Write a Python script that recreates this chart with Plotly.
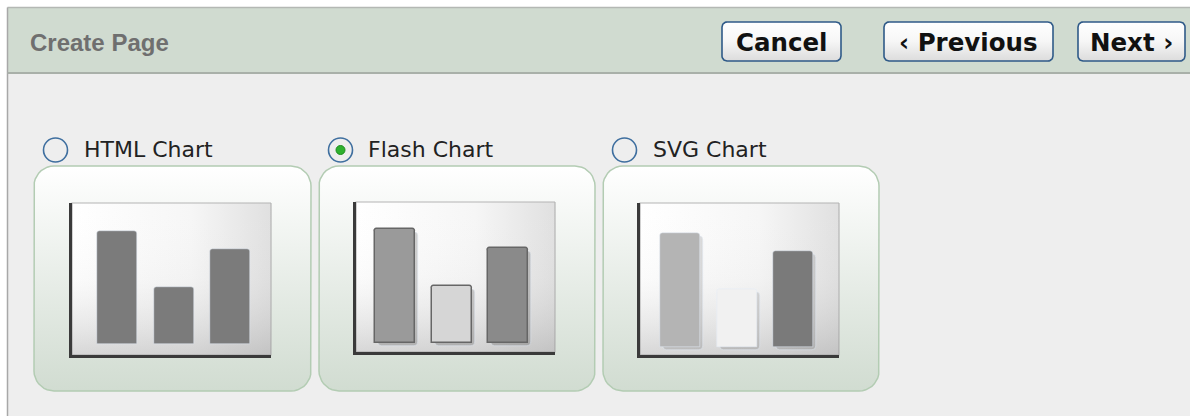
import numpy as np
import plotly.graph_objects as go

W, H = 1190, 416

# ---------------- data ----------------
page_title = "Create Page"
button_labels = ["Cancel", "‹ Previous", "Next ›"]
chart_labels = ["HTML Chart", "Flash Chart", "SVG Chart"]
selected_chart = "Flash Chart"
categories = ["Bar 1", "Bar 2", "Bar 3"]
html_values = [113, 57, 95]
flash_values = [114, 57, 95]
svg_values = [114, 58, 96]

# ---------------- layout helpers (pixel geometry) ----------------
def rounded_rect(x0, y0, x1, y1, r, n=10):
    xs, ys = [], []
    corners = [((x1 - r, y0 + r), -90, 0), ((x1 - r, y1 - r), 0, 90),
               ((x0 + r, y1 - r), 90, 180), ((x0 + r, y0 + r), 180, 270)]
    for (cx, cy), a0, a1 in corners:
        for a in np.linspace(np.radians(a0), np.radians(a1), n):
            xs.append(cx + r * np.cos(a))
            ys.append(cy + r * np.sin(a))
    xs.append(xs[0]); ys.append(ys[0])
    return xs, ys

fig = go.Figure()
BG = dict(xaxis="x", yaxis="y", hoverinfo="skip", showlegend=False, mode="lines")

# header band
hx, hy = rounded_rect(8, 8, 1192, 73, 0.01, n=2)
fig.add_trace(go.Scatter(x=hx, y=hy, fill="toself", fillcolor="#d0dbd0",
                         line=dict(width=0), **BG))

# buttons
buttons = [(722, 841), (884, 1053), (1078, 1185)]
for (bx0, bx1), lab in zip(buttons, button_labels):
    xs, ys = rounded_rect(bx0, 22, bx1, 61, 5)
    fig.add_trace(go.Scatter(x=xs, y=ys, fill="toself",
                             fillgradient=dict(type="vertical", start=22, stop=61,
                                               colorscale=[[0, "#ffffff"], [0.5, "#f6f6f6"], [1, "#dcdcdc"]]),
                             line=dict(color="#2f5a88", width=1.6), **BG))

# cards
cards = [(34, 311), (319, 595), (603, 879)]
for cx0, cx1 in cards:
    xs, ys = rounded_rect(cx0, 166, cx1, 391, 20)
    fig.add_trace(go.Scatter(x=xs, y=ys, fill="toself",
                             fillgradient=dict(type="vertical", start=166, stop=391,
                                               colorscale=[[0, "#ffffff"], [1, "#d1dcd1"]]),
                             line=dict(color="#b3ccb3", width=1.5), **BG))

# mini chart frames (pixel boxes)
frames = [dict(x0=72, y0=203, x1=271, y1=355, c0=117, base=344, vals=html_values),
          dict(x0=356, y0=202, x1=555, y1=352, c0=395, base=343, vals=flash_values),
          dict(x0=640, y0=203, x1=839, y1=355, c0=680, base=347, vals=svg_values)]
for f in frames:
    xs, ys = rounded_rect(f["x0"], f["y0"], f["x1"], f["y1"], 0.01, n=2)
    fig.add_trace(go.Scatter(x=xs, y=ys, fill="toself",
                             fillgradient=dict(type="horizontal", start=f["x0"], stop=f["x1"],
                                               colorscale=[[0, "#ffffff"], [0.6, "#f6f6f6"], [1, "#e0e0e0"]]),
                             line=dict(color="#b4b4b4", width=1.2), **BG))
    fig.add_trace(go.Scatter(x=xs, y=ys, fill="toself",
                             fillgradient=dict(type="vertical", start=f["y0"], stop=f["y1"],
                                               colorscale=[[0, "rgba(255,255,255,0)"], [0.5, "rgba(200,200,200,0.08)"], [1, "rgba(140,140,140,0.35)"]]),
                             line=dict(width=0), **BG))

# ---------------- mini bar charts ----------------
SPACING = 56.5
BAR_W = 40
styles = [
    dict(colors=["#7b7b7b", "#7b7b7b", "#7b7b7b"], line=None, shadow=None),
    dict(colors=["#9a9a9a", "#d6d6d6", "#8a8a8a"], line=dict(color="#666666", width=1.5), shadow="rgba(0,0,0,0.18)"),
    dict(colors=["#b4b4b4", "#f1f1f1", "#7a7a7a"], line=None, shadow="rgba(0,0,0,0.13)"),
]
layout_axes = {}
for i, (f, st) in enumerate(zip(frames, styles)):
    k = i + 2
    xr = [(f["x0"] - f["c0"]) / SPACING, (f["x1"] - f["c0"]) / SPACING]
    yr = [-(f["y1"] - f["base"]), f["base"] - f["y0"]]
    wu = BAR_W / SPACING
    if st["shadow"]:
        fig.add_trace(go.Bar(x=categories, y=f["vals"], base=-3, width=wu,
                             offset=-wu / 2 + 3 / SPACING,
                             marker=dict(color=st["shadow"], cornerradius=4),
                             xaxis=f"x{k}", yaxis=f"y{k}", hoverinfo="skip", showlegend=False))
    mk = dict(color=st["colors"], cornerradius=3)
    if st["line"]:
        mk["line"] = st["line"]
    fig.add_trace(go.Bar(x=categories, y=f["vals"], width=wu, marker=mk,
                         xaxis=f"x{k}", yaxis=f"y{k}", hoverinfo="skip", showlegend=False))
    layout_axes[f"xaxis{k}"] = dict(domain=[f["x0"] / W, f["x1"] / W], range=xr, anchor=f"y{k}",
                                    showline=True, linecolor="#3a3a3a", linewidth=2.5,
                                    showgrid=False, zeroline=False, showticklabels=False,
                                    ticks="", fixedrange=True, type="category")
    layout_axes[f"yaxis{k}"] = dict(domain=[1 - f["y1"] / H, 1 - f["y0"] / H], range=yr, anchor=f"x{k}",
                                    showline=True, linecolor="#3a3a3a", linewidth=2.5,
                                    showgrid=False, zeroline=False, showticklabels=False,
                                    ticks="", fixedrange=True)

# ---------------- shapes ----------------
shapes = [
    dict(type="rect", xref="x", yref="y", x0=0, y0=0, x1=W, y1=7, fillcolor="#ffffff", line=dict(width=0), layer="below"),
    dict(type="rect", xref="x", yref="y", x0=0, y0=0, x1=7, y1=H, fillcolor="#ffffff", line=dict(width=0), layer="below"),
    dict(type="line", xref="x", yref="y", x0=7.5, y0=7.5, x1=W, y1=7.5, line=dict(color="#b4b8b4", width=1.5), layer="above"),
    dict(type="line", xref="x", yref="y", x0=7.5, y0=7.5, x1=7.5, y1=H, line=dict(color="#a8a8a8", width=1.5), layer="above"),
    dict(type="line", xref="x", yref="y", x0=7.5, y0=73, x1=W, y1=73, line=dict(color="#a9b0a9", width=2), layer="above"),
]
radio_cx = [55.5, 340.5, 624.5]
for cx, lab in zip(radio_cx, chart_labels):
    shapes.append(dict(type="circle", xref="x", yref="y", x0=cx - 12, y0=138, x1=cx + 12, y1=162,
                       fillcolor="#eeeeee", line=dict(color="#3f6f9f", width=1.6), layer="above"))
    if lab == selected_chart:
        shapes.append(dict(type="circle", xref="x", yref="y", x0=cx - 4.5, y0=145.5, x1=cx + 4.5, y1=154.5,
                           fillcolor="#2fb12f", line=dict(color="#1e8e1e", width=1), layer="above"))

# ---------------- annotations ----------------
ann = [dict(x=28, y=42, xref="x", yref="y", text=f"<b>{page_title}</b>", showarrow=False,
            xanchor="left", yanchor="middle",
            font=dict(family="Liberation Sans, Arial", size=24, color="#6f6f6f"))]
for (bx0, bx1), lab in zip(buttons, button_labels):
    ann.append(dict(x=(bx0 + bx1) / 2, y=42, xref="x", yref="y", text=f"<b>{lab}</b>", showarrow=False,
                    xanchor="center", yanchor="middle",
                    font=dict(family="DejaVu Sans", size=24.5, color="#111111")))
label_x = [82, 366, 651]
for lx, lab in zip(label_x, chart_labels):
    ann.append(dict(x=lx, y=149, xref="x", yref="y", text=lab, showarrow=False,
                    xanchor="left", yanchor="middle",
                    font=dict(family="DejaVu Sans", size=22, color="#222222")))

fig.update_layout(
    width=W, height=H, autosize=False,
    margin=dict(l=0, r=0, t=0, b=0, pad=0),
    paper_bgcolor="#eeeeee", plot_bgcolor="rgba(0,0,0,0)",
    xaxis=dict(domain=[0, 1], range=[0, W], visible=False, fixedrange=True),
    yaxis=dict(domain=[0, 1], range=[H, 0], visible=False, fixedrange=True),
    shapes=shapes, annotations=ann, showlegend=False, bargap=0,
    **layout_axes,
)

fig.write_html("out.html", config={"displayModeBar": False},
               post_script="document.body.style.margin='0';document.body.style.overflow='hidden';")
